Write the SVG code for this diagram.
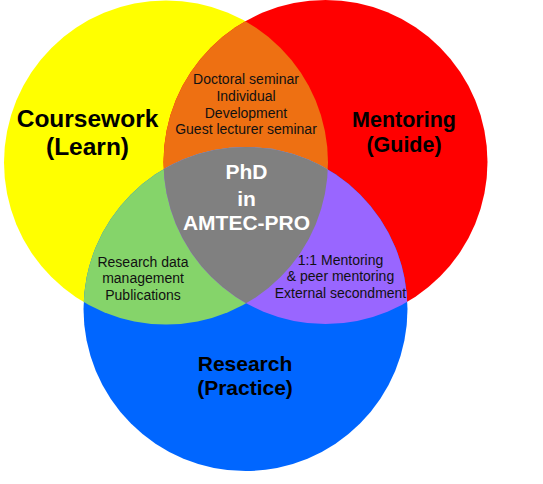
<svg xmlns="http://www.w3.org/2000/svg" xmlns:xlink="http://www.w3.org/1999/xlink" width="543" height="484" viewBox="0 0 543 484">
  <style>
    .main { font-family: "Liberation Sans", Arial, sans-serif; font-weight: bold; fill: #000; text-anchor: middle; }
    .sub { font-family: "Liberation Sans", Arial, sans-serif; font-size: 14px; fill: #111; text-anchor: middle; }
    .core { font-family: "Liberation Sans", Arial, sans-serif; font-weight: bold; font-size: 21px; fill: #fff; text-anchor: middle; }
  </style>
  <defs>
    <circle id="cy" cx="166" cy="162.5" r="162"/>
    <circle id="cr" cx="325.5" cy="162" r="162"/>
    <circle id="cb" cx="245.5" cy="309" r="162"/>
    <clipPath id="clipY"><use xlink:href="#cy"/></clipPath>
    <clipPath id="clipR"><use xlink:href="#cr"/></clipPath>
    <clipPath id="clipB"><use xlink:href="#cb"/></clipPath>
  </defs>
  <rect width="543" height="484" fill="#fff"/>
  <g id="coursework">
    <use xlink:href="#cy" fill="#FFFF00"/>
  </g>
  <g id="mentoring">
    <use xlink:href="#cr" fill="#FF0000"/>
  </g>
  <g id="research">
    <use xlink:href="#cb" fill="#0066FF"/>
  </g>
  <g id="overlap-coursework-mentoring">
    <use xlink:href="#cr" fill="#EE7012" clip-path="url(#clipY)"/>
  </g>
  <g id="overlap-coursework-research">
    <use xlink:href="#cb" fill="#85D46A" clip-path="url(#clipY)"/>
  </g>
  <g id="overlap-mentoring-research">
    <use xlink:href="#cb" fill="#9966FF" clip-path="url(#clipR)"/>
  </g>
  <g id="phd-core">
    <g clip-path="url(#clipY)">
      <use xlink:href="#cb" fill="#808080" clip-path="url(#clipR)"/>
    </g>
  </g>
  <g id="labels">
    <g id="label-coursework">
      <text class="main" font-size="24.5" x="87.5" y="127">Coursework</text>
      <text class="main" font-size="24.5" x="87.5" y="155">(Learn)</text>
    </g>
    <g id="label-mentoring">
      <text class="main" font-size="21.5" x="404" y="127">Mentoring</text>
      <text class="main" font-size="21.5" x="404" y="152">(Guide)</text>
    </g>
    <g id="label-research">
      <text class="main" font-size="21" x="245" y="371">Research</text>
      <text class="main" font-size="21" x="245" y="395">(Practice)</text>
    </g>
    <g id="label-top">
      <text class="sub" x="246" y="84">Doctoral seminar</text>
      <text class="sub" x="246" y="101">Individual</text>
      <text class="sub" x="246" y="117.5">Development</text>
      <text class="sub" x="246" y="134">Guest lecturer seminar</text>
    </g>
    <g id="label-left">
      <text class="sub" x="143" y="266.5">Research data</text>
      <text class="sub" x="143" y="283.3">management</text>
      <text class="sub" x="143" y="300">Publications</text>
    </g>
    <g id="label-right">
      <text class="sub" x="340.5" y="264.5">1:1 Mentoring</text>
      <text class="sub" x="340.5" y="281.3">&amp; peer mentoring</text>
      <text class="sub" x="340.5" y="298">External secondment</text>
    </g>
    <g id="label-core">
      <text class="core" x="246.5" y="179">PhD</text>
      <text class="core" x="246.5" y="206">in</text>
      <text class="core" x="246.5" y="230">AMTEC-PRO</text>
    </g>
  </g>
</svg>
